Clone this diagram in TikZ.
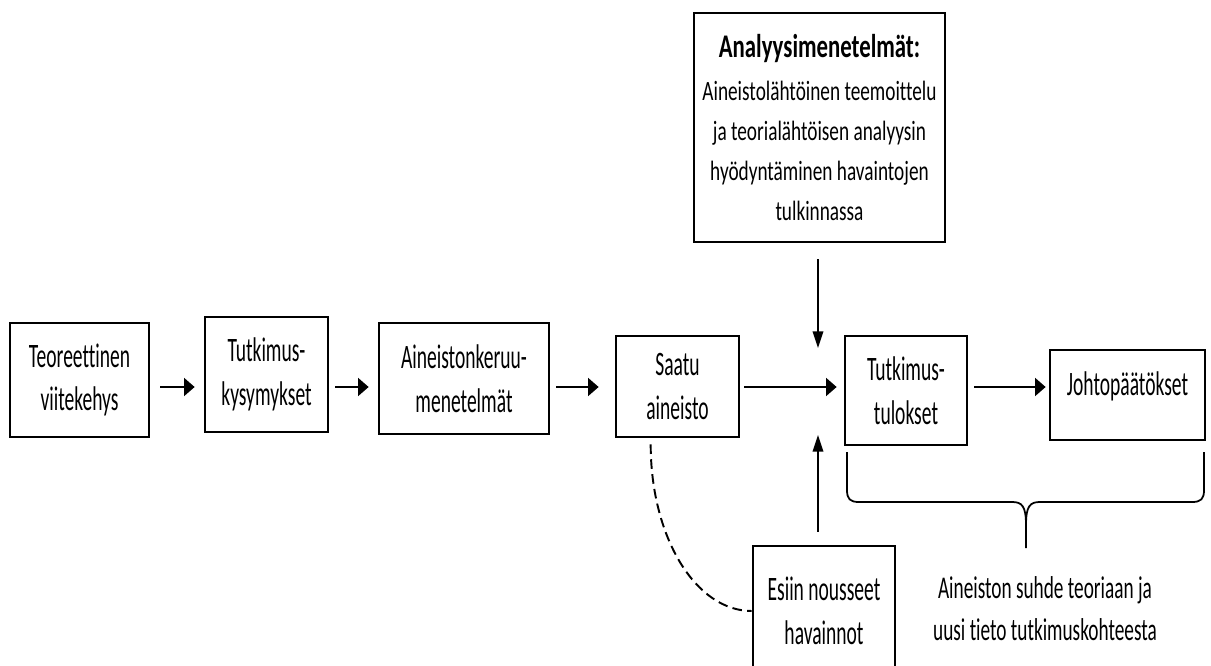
\documentclass[tikz,border=0pt]{standalone}
\usepackage{fontspec}
\usetikzlibrary{arrows.meta,calc}
\newfontfamily\boxfont{Carlito}[FakeStretch=0.57, Ligatures=NoCommon]
\newfontfamily\anafont{Carlito}[FakeStretch=0.69, Ligatures=NoCommon]
\newfontfamily\notefont{Carlito}[FakeStretch=0.61, Ligatures=NoCommon]

\tikzset{
  stepbox/.style 2 args={draw, line width=1.5pt, inner sep=0pt, align=center,
    minimum width=#1*0.02cm, minimum height=#2*0.02cm,
    font=\boxfont\fontsize{19.5}{25}\selectfont},
  flow/.style={-{Triangle[length=6pt,width=10pt]}, line width=1.7pt},
  feed/.style={-{Triangle[length=9.5pt,width=6pt]}, line width=1.1pt},
}

\begin{document}
\begin{tikzpicture}[x=0.02cm,y=-0.02cm]
  \useasboundingbox (0,0) rectangle (1211,666);
  \clip (0,0) rectangle (1211,666);
  % main row
  \node[stepbox={139}{114}] (theory) at (79.5,380) {Teoreettinen\\viitekehys};
  \node[stepbox={123}{115}] (questions) at (266.5,374.5) {Tutkimus-\\kysymykset};
  \node[stepbox={170}{111}] (collection) at (464,378.5) {Aineistonkeruu-\\menetelmät};
  \node[stepbox={123}{101}] (data) at (677.5,386.5) {Saatu\\aineisto};
  \node[stepbox={122}{109}] (results) at (906,390.5) {Tutkimus-\\tulokset};
  \node[stepbox={155}{90}, text height=12pt, text depth=12pt] (conclusions) at (1127.5,395) {Johtopäätökset};
  % side boxes
  \node[stepbox={251}{229}, font=\anafont\fontsize{15.9}{22.8}\selectfont] (methods) at (819.5,127.5)
    {{\fontsize{18.8}{25}\selectfont\bfseries Analyysimenetelmät:}\\[2pt]
     Aineistolähtöinen teemoittelu\\ja teorialähtöisen analyysin\\hyödyntäminen havaintojen\\tulkinnassa};
  \node[stepbox={142}{130}] (findings) at (824,611) {Esiin nousseet\\havainnot};
  \node[align=center, inner sep=0pt, font=\notefont\fontsize{18}{23.9}\selectfont] (relation) at (1045,609)
    {Aineiston suhde teoriaan ja\\uusi tieto tutkimuskohteesta};

  \coordinate (row) at (0,387);
  \coordinate (down) at (818,348);
  \coordinate (up) at (818,435);
  \foreach \a/\b/\s/\t in {theory/questions/10/9, questions/collection/6/9,
      collection/data/6/16, data/results/4/7, results/conclusions/6/3}
    \draw[flow, shorten <=\s*0.02cm, shorten >=\t*0.02cm] (\a.east |- row) -- (\b.west |- row);
  \draw[feed, shorten <=16*0.02cm] (methods.south -| down) -- (down);
  \draw[feed, shorten <=13*0.02cm] (findings.north -| up) -- (up);

  % dashed link
  \draw[line width=1.1pt, dash pattern=on 5.5pt off 3pt]
    ($(data.south west)+(36,6)$) .. controls +(0,93) and +(-56,0) .. (findings.west);

  % brace under the results
  \draw[line width=1pt] (847,452) -- (847,490) .. controls (847,499) and (850,502) .. (859,502)
    -- (1012,502) .. controls (1022,502) and (1026,506) .. (1026,525) -- (1026,548)
    (1026,525) .. controls (1026,506) and (1030,502) .. (1040,502)
    -- (1192,502) .. controls (1201,502) and (1204,499) .. (1204,490) -- (1204,452);
\end{tikzpicture}
\end{document}
